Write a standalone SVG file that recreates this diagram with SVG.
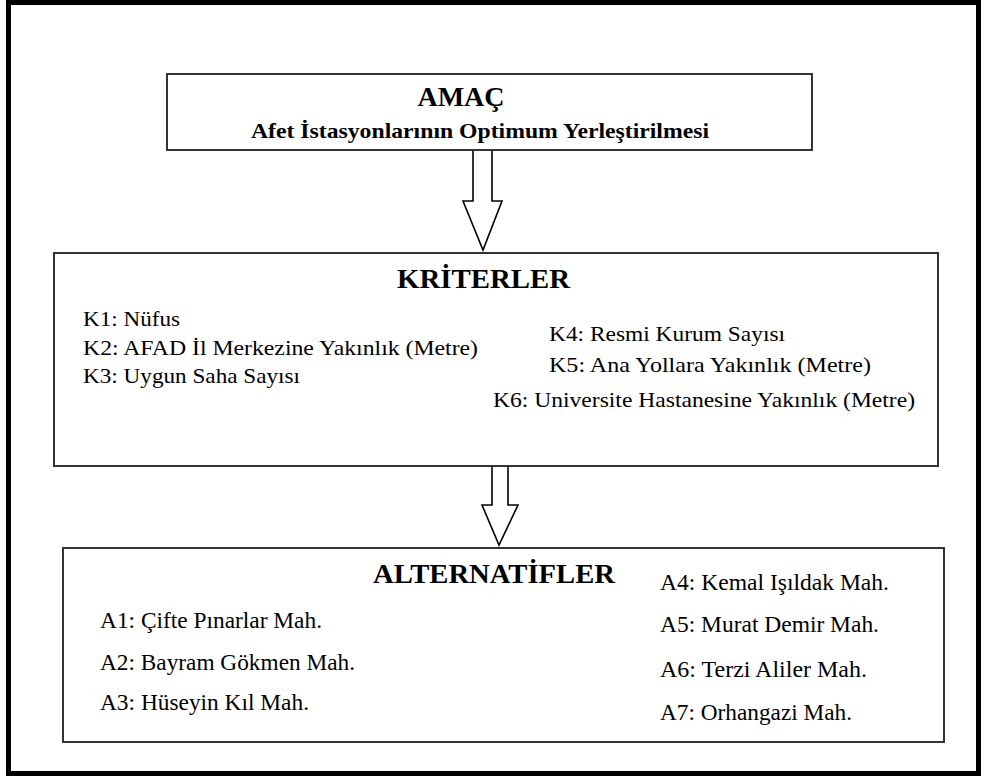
<svg xmlns="http://www.w3.org/2000/svg" width="981" height="776" viewBox="0 0 981 776">
<style>
.box{fill:#fff;stroke:#333;stroke-width:2}
.arrow{fill:#fff;stroke:#000;stroke-width:1.6;stroke-linejoin:miter}
.title{font-weight:bold;font-size:28px}
.sub{font-weight:bold;font-size:22px}
.k{font-size:22px}
.a{font-size:23px}
</style>
<rect x="0" y="0" width="981" height="776" fill="#fff"/>
<rect x="8.5" y="2.5" width="970" height="771" fill="none" stroke="#000" stroke-width="5"/>
<g id="connectors">
<polygon class="arrow" points="473,150 492,150 492,201 502,201 483,250 463,201 473,201"/>
<polygon class="arrow" points="492,466 508,466 508,505 518,505 499,545 482,505 492,505"/>
</g>
<g id="amac" font-family="Liberation Serif" fill="#000">
<rect class="box" x="167" y="74" width="645" height="76"/>
<text class="title" x="461" y="106" text-anchor="middle">AMAÇ</text>
<text class="sub" x="251" y="138" textLength="458" lengthAdjust="spacingAndGlyphs">Afet İstasyonlarının Optimum Yerleştirilmesi</text>
</g>
<g id="kriterler" font-family="Liberation Serif" fill="#000">
<rect class="box" x="54" y="253" width="884" height="213"/>
<text class="title" x="397" y="288" textLength="173" lengthAdjust="spacingAndGlyphs">KRİTERLER</text>
<text class="k" x="83" y="326" textLength="97" lengthAdjust="spacingAndGlyphs">K1: Nüfus</text>
<text class="k" x="83" y="355" textLength="395" lengthAdjust="spacingAndGlyphs">K2: AFAD İl Merkezine Yakınlık (Metre)</text>
<text class="k" x="83" y="383" textLength="217" lengthAdjust="spacingAndGlyphs">K3: Uygun Saha Sayısı</text>
<text class="k" x="549" y="341" textLength="236" lengthAdjust="spacingAndGlyphs">K4: Resmi Kurum Sayısı</text>
<text class="k" x="549" y="372" textLength="322" lengthAdjust="spacingAndGlyphs">K5: Ana Yollara Yakınlık (Metre)</text>
<text class="k" x="493" y="407" textLength="422" lengthAdjust="spacingAndGlyphs">K6: Universite Hastanesine Yakınlık (Metre)</text>
</g>
<g id="alternatifler" font-family="Liberation Serif" fill="#000">
<rect class="box" x="63" y="548" width="881" height="194"/>
<text class="title" x="373" y="583" textLength="242" lengthAdjust="spacingAndGlyphs">ALTERNATİFLER</text>
<text class="a" x="100" y="628" textLength="222" lengthAdjust="spacingAndGlyphs">A1: Çifte Pınarlar Mah.</text>
<text class="a" x="100" y="670" textLength="255" lengthAdjust="spacingAndGlyphs">A2: Bayram Gökmen Mah.</text>
<text class="a" x="100" y="710" textLength="209" lengthAdjust="spacingAndGlyphs">A3: Hüseyin Kıl Mah.</text>
<text class="a" x="660" y="590" textLength="229" lengthAdjust="spacingAndGlyphs">A4: Kemal Işıldak Mah.</text>
<text class="a" x="660" y="632" textLength="219" lengthAdjust="spacingAndGlyphs">A5: Murat Demir Mah.</text>
<text class="a" x="660" y="677" textLength="207" lengthAdjust="spacingAndGlyphs">A6: Terzi Aliler Mah.</text>
<text class="a" x="660" y="720" textLength="192" lengthAdjust="spacingAndGlyphs">A7: Orhangazi Mah.</text>
</g>
</svg>
